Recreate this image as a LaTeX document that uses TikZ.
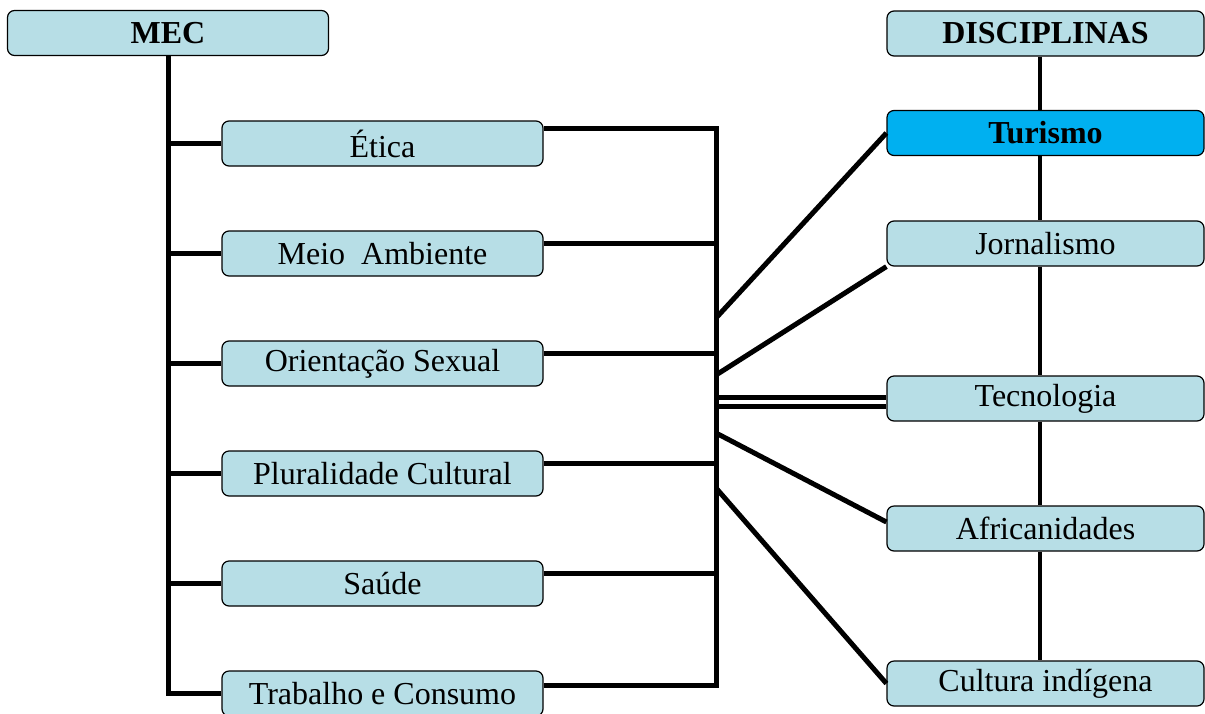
\documentclass[tikz,border=0pt]{standalone}
\usepackage{fontspec}
\setmainfont{Liberation Serif}
\usetikzlibrary{positioning}
\definecolor{caixa}{RGB}{183,222,230}
\definecolor{destaque}{RGB}{0,176,240}
\tikzstyle{tema} = [rectangle, rounded corners=3.5pt, minimum width=160.5pt, minimum height=22.5pt, inner sep=2pt, text centered, draw=black, line width=0.6pt, fill=caixa, font=\fontsize{16}{19}\selectfont]
\tikzstyle{area} = [tema, minimum width=158.5pt]
\tikzstyle{conn} = [line width=2.5pt]
\tikzstyle{eixo} = [line width=2pt]

\begin{document}
\begin{tikzpicture}[x=0.5pt, y=-0.5pt, node distance=55pt]
\useasboundingbox (0,0) rectangle (1205,713);

\node (mec) [tema] at (168,33) {\bfseries MEC};
\node (etica) [tema] at (382.5,143.5) {Ética};
\node (meio) [tema, below of=etica] {Meio\ \ Ambiente};
\node (orientacao) [tema, below of=meio] {Orientação Sexual};
\node (pluralidade) [tema, below of=orientacao] {Pluralidade Cultural};
\node (saude) [tema, below of=pluralidade] {Saúde};
\node (trabalho) [tema, below of=saude] {Trabalho e Consumo};

\node (disc) [area] at (1045.5,33.5) {\bfseries DISCIPLINAS};
\node (turismo) [area, fill=destaque] at (1045.5,133) {\bfseries Turismo};
\node (jornalismo) [area] at (1045.5,243.5) {Jornalismo};
\node (tecnologia) [area] at (1045.5,398.5) {Tecnologia};
\node (africanidades) [area] at (1045.5,528.5) {Africanidades};
\node (cultura) [area] at (1045.5,683.5) {Cultura indígena};

\coordinate (aTur) at (716,318);
\coordinate (aJor) at (716,375);
\coordinate (aTec1) at (716,397);
\coordinate (aTec2) at (716,406);
\coordinate (aAfr) at (716,433);
\coordinate (aCul) at (716,488);

\draw [conn] (mec.south) |- (trabalho.west);
\draw [conn] (mec.south |- etica.west) -- (etica.west);
\draw [conn] (mec.south |- meio.west) -- (meio.west);
\draw [conn] (mec.south |- orientacao.west) -- (orientacao.west);
\draw [conn] (mec.south |- pluralidade.west) -- (pluralidade.west);
\draw [conn] (mec.south |- saude.west) -- (saude.west);

\draw [conn] ([yshift=7.75pt]etica.east) -- ++(173,0) |- ([yshift=4.25pt]trabalho.east);
\draw [conn] ([yshift=5.25pt]meio.east) -- ++(173,0);
\draw [conn] ([yshift=5.25pt]orientacao.east) -- ++(173,0);
\draw [conn] ([yshift=5.25pt]pluralidade.east) -- ++(173,0);
\draw [conn] ([yshift=5.25pt]saude.east) -- ++(173,0);

\draw [conn] (aTur) -- (turismo.west);
\draw [conn] (aJor) -- (jornalismo.south west);
\draw [conn] (aTec1) -- ([yshift=0.75pt]tecnologia.west);
\draw [conn] (aTec2) -- ([yshift=-3.75pt]tecnologia.west);
\draw [conn] (aAfr) -- ([yshift=3.25pt]africanidades.west);
\draw [conn] (aCul) -- (cultura.west);

\draw [eixo] ([xshift=-2.75pt]disc.south) -- ([xshift=-2.75pt]turismo.north);
\draw [eixo] ([xshift=-2.75pt]turismo.south) -- ([xshift=-2.75pt]jornalismo.north);
\draw [eixo] ([xshift=-2.75pt]jornalismo.south) -- ([xshift=-2.75pt]tecnologia.north);
\draw [eixo] ([xshift=-2.75pt]tecnologia.south) -- ([xshift=-2.75pt]africanidades.north);
\draw [eixo] ([xshift=-2.75pt]africanidades.south) -- ([xshift=-2.75pt]cultura.north);

\end{tikzpicture}
\end{document}
